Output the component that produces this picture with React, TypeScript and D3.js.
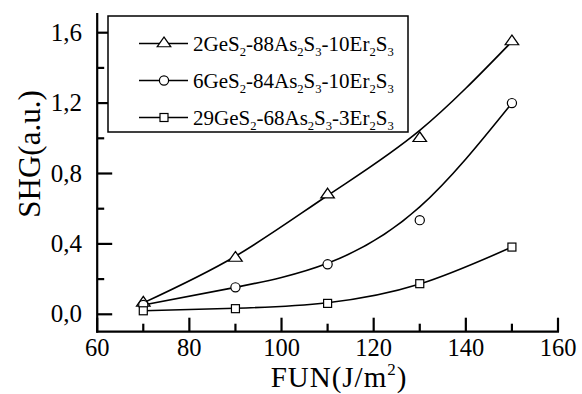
import React from 'react';
import * as d3 from 'd3';

// measured values (FUN in J/m2, SHG in a.u.)
const fun = [70, 90, 110, 130, 150];
const shgTri = [0.065, 0.32, 0.68, 1.0, 1.55];
const shgCirc = [0.053, 0.153, 0.284, 0.535, 1.2];
const shgSq = [0.02, 0.032, 0.062, 0.174, 0.382];

// fitted curves, same x positions
const fitTri = [0.065, 0.33, 0.675, 1.045, 1.55];
const fitCirc = [0.053, 0.153, 0.29, 0.61, 1.2];
const fitSq = [0.02, 0.034, 0.066, 0.172, 0.382];

const seriesNames = [
  '2GeS_2-88As_2S_3-10Er_2S_3',
  '6GeS_2-84As_2S_3-10Er_2S_3',
  '29GeS_2-68As_2S_3-3Er_2S_3',
];
const markers = ['triangle', 'circle', 'square'];

const xTicks = [60, 70, 80, 90, 100, 110, 120, 130, 140, 150, 160];
const xLabels = [60, 80, 100, 120, 140, 160];
const yTicks = [0, 0.2, 0.4, 0.6, 0.8, 1.0, 1.2, 1.4, 1.6];
const yLabels = [0, 0.4, 0.8, 1.2, 1.6];

const W = 582;
const H = 394;
const font = '"Liberation Serif", "Times New Roman", serif';

const x = d3.scaleLinear().domain([60, 160]).range([97.2, 558]);
const y = d3.scaleLinear().domain([0, 1.6]).range([314.3, 32.7]);
const plotTop = 13;
const plotBottom = 331.7;

const Marker = ({ kind, cx, cy }: { kind: string; cx: number; cy: number }) => {
  const st = { fill: '#fff', stroke: '#000', strokeWidth: 1.2 };
  if (kind === 'circle') return <circle cx={cx} cy={cy} r={4.6} {...st} />;
  if (kind === 'square') return <rect x={cx - 4} y={cy - 4} width={8} height={8} {...st} />;
  const p = d3.symbol(d3.symbolTriangle, 60)() as string;
  return <path d={p} transform={`translate(${cx},${cy}) scale(1.15,0.95)`} {...st} />;
};

// "As_2" -> As with subscript 2
const Formula = ({ text, sz }: { text: string; sz: number }) => {
  const parts = text.split(/(_\d)/).filter((s) => s.length);
  return (
    <>
      {parts.map((p, i) =>
        p.startsWith('_') ? (
          <tspan key={i} fontSize={sz * 0.6} dy={sz * 0.25}>{p.slice(1)}</tspan>
        ) : (
          <tspan key={i} dy={i > 0 ? -sz * 0.25 : 0}>{p}</tspan>
        )
      )}
    </>
  );
};

const App = () => {
  const line = d3
    .line<number>()
    .x((_, i) => x(fun[i]))
    .y((d) => y(d))
    .curve(d3.curveNatural);

  const fits = [fitTri, fitCirc, fitSq];
  const points = [shgTri, shgCirc, shgSq];
  const legendX = 108;
  const legendRows = [43.5, 80.5, 117.5];

  return (
    <svg width={W} height={H} style={{ position: 'absolute', left: 0, top: 0, background: '#fff' }}>
      {/* fitted curves */}
      {fits.map((f, i) => (
        <path key={i} d={line(f) as string} fill="none" stroke="#000" strokeWidth={1.6} />
      ))}
      {/* points */}
      {points.map((s, i) =>
        s.map((v, j) => <Marker key={i + '-' + j} kind={markers[i]} cx={x(fun[j])} cy={y(v)} />)
      )}

      {/* axes */}
      <line x1={x(60)} x2={x(60)} y1={plotTop} y2={plotBottom + 1} stroke="#000" strokeWidth={2.2} />
      <line x1={x(60) - 1} x2={x(160) + 1} y1={plotBottom} y2={plotBottom} stroke="#000" strokeWidth={2.2} />
      {xTicks.map((t) => (
        <line key={t} x1={x(t)} x2={x(t)} y1={plotBottom} y2={plotBottom - (xLabels.includes(t) ? 14 : 8)}
          stroke="#000" strokeWidth={2.2} />
      ))}
      {yTicks.map((t, i) => (
        <line key={i} x1={x(60)} x2={x(60) + (i % 2 === 0 ? 15 : 7)} y1={y(t)} y2={y(t)}
          stroke="#000" strokeWidth={2.2} />
      ))}
      {xLabels.map((t) => (
        <text key={t} x={x(t)} y={355.5} textAnchor="middle" fontFamily={font} fontSize={24.5}>{t}</text>
      ))}
      {yLabels.map((t) => (
        <text key={t} x={82} y={y(t) + 8} textAnchor="end" fontFamily={font} fontSize={25}>
          {d3.format('.1f')(t).replace('.', ',')}
        </text>
      ))}
      <text x={339} y={387} textAnchor="middle" fontFamily={font} fontSize={29} letterSpacing={1}>
        FUN(J/m<tspan fontSize={17} dy={-12}>2</tspan><tspan dy={12}>)</tspan>
      </text>
      <text transform="translate(40,154) rotate(-90)" textAnchor="middle" fontFamily={font} fontSize={31}>
        SHG(a.u.)
      </text>

      {/* legend */}
      <rect x={legendX} y={16} width={300} height={116} fill="#fff" stroke="#000" strokeWidth={1.5} />
      {seriesNames.map((n, i) => (
        <g key={n}>
          <line x1={139} x2={188} y1={legendRows[i]} y2={legendRows[i]} stroke="#000" strokeWidth={1.5} />
          <Marker kind={markers[i]} cx={164} cy={legendRows[i]} />
          <text x={193} y={legendRows[i] + 7} fontFamily={font} fontSize={21}>
            <Formula text={n} sz={21} />
          </text>
        </g>
      ))}
    </svg>
  );
};

export default App;
